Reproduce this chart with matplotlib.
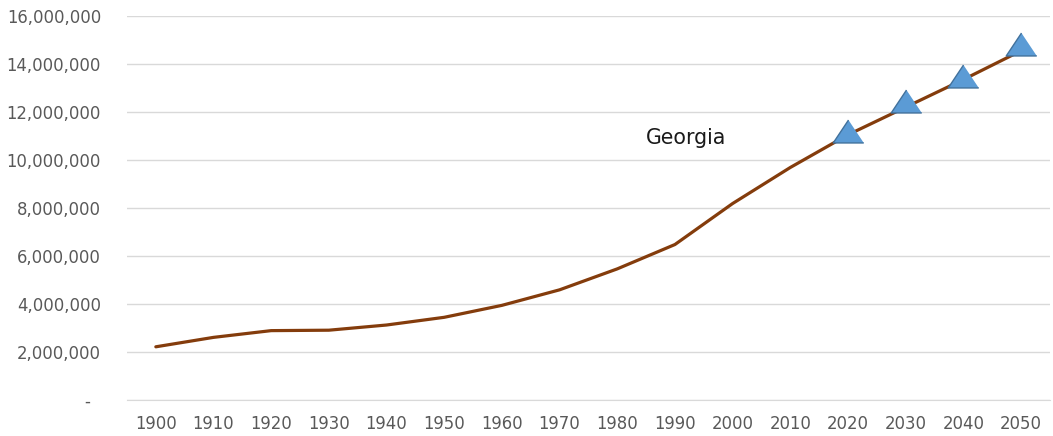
import matplotlib
matplotlib.use('Agg')
import matplotlib.pyplot as plt
from matplotlib.ticker import FuncFormatter

years = [1900, 1910, 1920, 1930, 1940, 1950, 1960, 1970, 1980, 1990,
         2000, 2010, 2020, 2030, 2040, 2050]
population = [2216000, 2609000, 2890000, 2908000, 3124000, 3445000, 3943000,
              4590000, 5463000, 6478000, 8186000, 9688000, 11050000,
              12200000, 13350000, 14550000]
proj_years = [2020, 2030, 2040, 2050]
projection = [11200000, 12440000, 13500000, 14830000]
label = 'Georgia'

plt.rcParams['font.family'] = ['DejaVu Sans']

fig = plt.figure(figsize=(10.53, 4.36), dpi=100)
ax = fig.add_axes([0.1206, 0.0826, 0.8764, 0.8807])

ax.plot(years, population, color='#843C0C', lw=2.3, solid_capstyle='round', zorder=3)
tri = [(0, 0.75), (-1, -0.75), (1, -0.75)]
ax.plot(proj_years, projection, ls='none', marker=tri, ms=22,
        markerfacecolor='#5B9BD5', markeredgecolor='#41719C', markeredgewidth=1, zorder=4)

ax.text(1991.9, 10920000, label, fontsize=14.8, ha='center', va='center', color='#1a1a1a')

ax.set_xlim(1895, 2055)
ax.set_ylim(0, 16000000)
ax.set_xticks(years)
ax.set_yticks(range(0, 16000001, 2000000))

def fmt(v, pos):
    if v == 0:
        return '-  '
    return '{:,.0f}'.format(v)

ax.yaxis.set_major_formatter(FuncFormatter(fmt))
ax.grid(axis='y', color='#D9D9D9', lw=1)
ax.set_axisbelow(True)
for s in ['top', 'right', 'left']:
    ax.spines[s].set_visible(False)
ax.spines['bottom'].set_color('#D9D9D9')
ax.tick_params(axis='both', length=0, labelsize=11.9, colors='#595959')
ax.tick_params(axis='x', pad=11)
ax.tick_params(axis='y', pad=18.7)

fig.savefig('out.png', dpi=100)
